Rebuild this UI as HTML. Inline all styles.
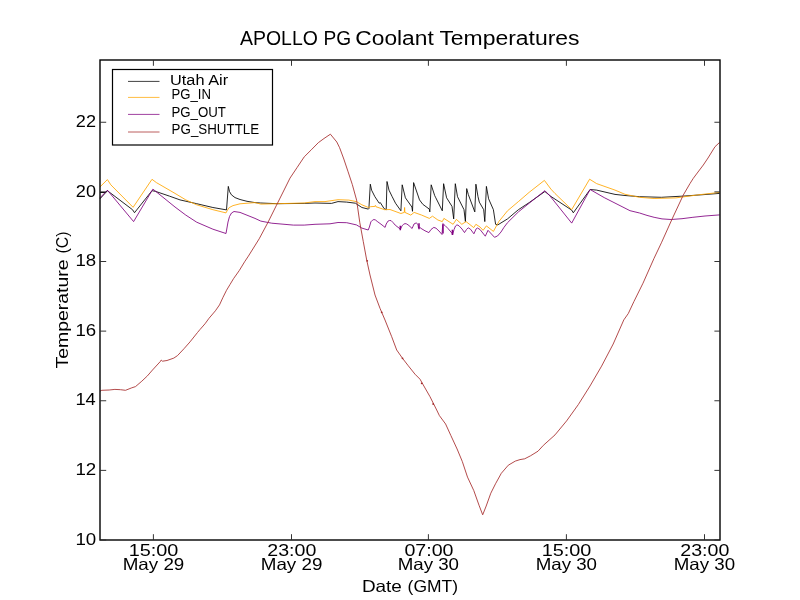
<!DOCTYPE html>
<html><head><meta charset="utf-8"><style>html,body{margin:0;padding:0;background:#fff;overflow:hidden}svg{display:block;will-change:transform}</style></head>
<body><svg width="800" height="600" viewBox="0 0 800 600">
<rect x="0" y="0" width="800" height="600" fill="#fff"/>
<polyline points="100.0,198.8 107.4,190.7 105.5,192.5 100.0,192.5 105.5,192.5 107.4,190.7 132.5,209.7 134.5,212.7 152.0,190.7 155.3,191.3 169.4,196.1 180.0,199.9 196.7,203.7 212.9,207.5 226.5,209.9 228.3,186.4 229.5,191.5 231.4,194.8 235.0,197.6 240.0,199.5 247.0,201.3 255.0,202.6 260.8,203.0 277.1,203.7 304.2,203.4 315.0,203.0 331.5,203.4 338.0,201.6 346.7,202.1 355.4,203.2 361.9,207.5 368.4,209.1 368.9,208.6 370.3,184.2 371.6,190.2 374.9,196.7 379.2,203.2 380.3,202.6 384.1,208.6 386.2,209.7 387.0,181.5 389.0,190.2 392.2,196.7 395.5,203.2 400.9,210.8 402.2,184.8 405.4,197.8 411.9,207.0 412.5,211.3 413.6,182.6 419.5,199.9 422.8,204.3 429.3,209.1 429.8,211.9 431.2,184.8 434.7,195.6 435.8,197.8 442.3,210.8 443.6,183.7 446.6,197.8 452.0,206.4 453.7,218.9 455.3,183.7 457.5,196.7 464.0,209.7 465.4,221.6 466.7,188.6 468.3,194.5 474.8,211.9 475.9,184.2 478.0,196.7 479.3,202.1 483.7,209.7 484.8,221.6 486.4,186.4 488.6,198.8 493.4,209.7 495.6,224.3 497.8,224.9 507.5,218.9 518.4,209.7 529.2,202.6 544.9,191.5 551.0,196.5 571.7,210.1 573.3,212.8 590.1,189.5 596.6,190.1 615.0,194.4 625.0,195.5 639.6,196.7 661.4,197.3 683.2,196.1 700.2,194.9 719.6,193.4" fill="none" stroke="#000000" stroke-width="0.85" stroke-linejoin="round"/>
<polyline points="100.0,186.9 107.4,179.6 110.8,184.8 133.1,207.3 152.0,179.3 156.4,182.6 175.0,193.4 185.8,199.9 196.7,204.8 212.9,209.7 226.0,212.9 227.5,210.0 229.2,207.6 233.0,205.6 240.0,203.8 255.0,202.6 260.8,204.1 277.1,203.7 304.2,203.0 315.0,201.6 325.0,201.6 338.0,199.7 348.8,200.1 356.4,201.6 361.9,204.8 368.4,207.5 370.5,206.7 374.9,206.4 375.4,205.4 375.9,206.7 384.6,209.7 390.0,209.5 400.9,213.5 404.3,212.4 404.6,207.5 404.9,212.4 410.8,215.1 414.1,212.4 421.7,215.1 429.3,218.4 432.5,216.2 437.9,220.0 442.3,221.6 443.9,218.4 453.1,224.3 456.4,219.4 461.8,224.3 466.1,221.6 473.7,227.6 475.9,224.3 480.0,227.0 483.1,230.3 486.4,225.9 493.4,231.4 498.8,221.6 507.5,210.8 518.4,201.6 529.2,192.3 544.4,180.4 550.9,189.1 555.0,193.5 571.7,209.6 589.6,179.2 596.6,183.6 615.0,190.1 625.0,194.3 639.6,197.3 654.1,198.5 675.9,197.9 697.8,194.9 719.6,192.4" fill="none" stroke="#FFA500" stroke-width="0.85" stroke-linejoin="round"/>
<polyline points="100.0,197.8 107.4,190.2 133.6,221.6 152.9,189.1 175.0,207.0 185.8,215.1 196.7,222.2 212.9,229.2 226.0,233.5 228.0,222.0 229.5,216.5 231.5,213.0 234.0,211.5 240.0,212.4 255.0,218.4 260.8,221.1 271.7,223.2 293.4,225.1 304.2,225.1 315.0,224.3 330.0,223.8 338.0,222.5 346.7,222.7 356.4,224.9 361.9,228.1 368.2,230.0 369.4,227.0 370.9,221.8 372.5,220.2 373.9,219.5 375.5,220.0 377.2,221.4 381.0,224.2 385.1,227.4 386.2,224.0 388.1,221.0 389.5,220.5 391.1,220.6 393.0,222.5 395.2,225.1 398.0,227.3 400.5,229.2 402.0,225.9 403.5,224.3 405.0,223.6 406.5,223.9 408.0,224.8 410.0,226.5 412.1,228.5 414.0,224.0 416.2,222.9 418.0,224.5 418.5,228.0 419.5,227.0 421.0,228.4 425.0,230.8 428.9,232.6 431.0,229.5 433.8,227.4 436.0,228.2 439.0,231.0 442.0,234.5 442.8,223.6 445.0,225.5 448.0,228.5 452.1,233.4 452.6,235.0 454.0,229.6 455.5,226.0 457.0,224.8 459.0,225.8 462.0,229.0 464.5,232.6 466.5,229.5 468.2,227.8 470.5,229.2 473.9,233.8 476.1,228.9 477.5,228.0 480.0,229.5 485.3,236.2 488.0,230.3 494.5,237.3 497.5,236.0 501.0,232.0 504.0,227.3 507.5,222.7 518.4,211.9 529.2,203.2 544.9,190.7 550.0,196.0 571.7,223.1 590.1,189.5 604.2,197.6 630.0,210.7 639.6,213.0 647.0,215.4 654.1,217.3 662.0,218.9 671.1,219.5 682.0,218.7 692.9,217.3 705.0,216.0 719.6,214.9" fill="none" stroke="#800080" stroke-width="0.85" stroke-linejoin="round"/>
<polyline points="100.0,391.2 101.8,390.3 109.2,390.0 114.9,389.4 120.5,389.7 125.5,390.3 131.8,387.8 135.5,386.6 141.8,381.2 147.4,375.9 152.5,370.0 160.6,361.2 161.2,360.0 162.5,361.2 167.0,360.5 173.8,358.1 177.5,355.6 184.0,348.7 190.0,341.9 197.5,332.5 200.0,329.5 205.0,323.8 209.0,318.3 215.4,310.8 219.5,304.9 223.0,297.3 226.5,290.3 230.0,284.5 233.5,278.7 239.3,270.5 244.6,261.8 248.4,256.1 259.2,238.8 267.9,222.5 276.5,205.2 284.1,190.0 290.0,178.1 297.1,167.5 304.2,156.9 311.3,149.8 318.3,142.7 324.0,138.5 330.4,134.2 336.8,142.0 339.6,147.7 343.8,159.0 348.1,171.8 352.3,184.5 356.6,200.1 358.0,210.0 359.8,222.6 363.3,241.7 366.7,260.0 370.0,275.0 375.0,295.0 380.0,308.3 385.0,320.0 391.7,336.7 396.7,350.0 402.5,358.3 408.3,365.8 415.0,374.2 420.0,379.2 423.3,385.0 430.0,396.7 436.7,410.0 439.4,415.6 445.6,424.0 450.8,435.4 457.1,449.0 462.3,461.5 467.5,477.1 473.8,490.6 479.0,505.2 482.7,514.8 486.2,506.0 490.8,493.2 495.5,483.8 501.3,473.3 508.3,465.2 515.3,461.1 520.0,459.6 524.7,458.8 530.5,455.8 538.0,451.2 543.3,445.4 555.0,434.9 566.6,420.9 578.3,404.6 590.0,386.0 601.6,366.1 613.2,344.0 623.8,319.9 628.3,313.5 633.9,301.6 643.0,283.2 654.0,258.4 661.4,242.8 672.1,219.0 683.3,195.0 690.0,183.5 693.3,178.3 698.0,172.0 703.3,165.0 708.0,158.0 715.0,146.7 719.5,142.5" fill="none" stroke="#A52A2A" stroke-width="0.85" stroke-linejoin="round"/>
<path d="M400.3,225.8V230.2M419,223.2V229.2M443,224.5V233.5M452.4,229.8V235" stroke="#800080" stroke-width="1.5" fill="none"/>
<g fill="#A52A2A"><circle cx="367.2" cy="260.8" r="0.9"/><circle cx="381.7" cy="312.3" r="0.9"/><circle cx="402.5" cy="358.3" r="0.9"/><circle cx="421.7" cy="383.3" r="0.9"/><circle cx="433.2" cy="404" r="0.9"/></g>
<rect x="100" y="60" width="620" height="480" fill="none" stroke="#000" stroke-width="1.4"/>
<path d="M100,540.00h6.2M720,540.00h-5.6M100,470.38h6.2M720,470.38h-5.6M100,400.75h6.2M720,400.75h-5.6M100,331.12h6.2M720,331.12h-5.6M100,261.50h6.2M720,261.50h-5.6M100,191.88h6.2M720,191.88h-5.6M100,122.25h6.2M720,122.25h-5.6M153.4,540v-5.8M153.4,60v5.8M291.5,540v-5.8M291.5,60v5.8M428.4,540v-5.8M428.4,60v5.8M566.4,540v-5.8M566.4,60v5.8M704.5,540v-5.8M704.5,60v5.8" stroke="#2a2a2a" stroke-width="0.95" fill="none"/>
<text x="75.40" y="544.70" font-family="Liberation Sans, sans-serif" font-size="16.5" textLength="20.83" lengthAdjust="spacingAndGlyphs">10</text>
<text x="75.40" y="475.07" font-family="Liberation Sans, sans-serif" font-size="16.5" textLength="20.84" lengthAdjust="spacingAndGlyphs">12</text>
<text x="75.42" y="405.45" font-family="Liberation Sans, sans-serif" font-size="16.5" textLength="20.38" lengthAdjust="spacingAndGlyphs">14</text>
<text x="75.40" y="335.82" font-family="Liberation Sans, sans-serif" font-size="16.5" textLength="20.73" lengthAdjust="spacingAndGlyphs">16</text>
<text x="75.40" y="266.20" font-family="Liberation Sans, sans-serif" font-size="16.5" textLength="20.73" lengthAdjust="spacingAndGlyphs">18</text>
<text x="75.84" y="196.57" font-family="Liberation Sans, sans-serif" font-size="16.5" textLength="20.16" lengthAdjust="spacingAndGlyphs">20</text>
<text x="75.84" y="126.95" font-family="Liberation Sans, sans-serif" font-size="16.5" textLength="20.16" lengthAdjust="spacingAndGlyphs">22</text>
<text x="128.66" y="555.80" font-family="Liberation Sans, sans-serif" font-size="16.5" textLength="49.74" lengthAdjust="spacingAndGlyphs">15:00</text>
<text x="122.66" y="569.80" font-family="Liberation Sans, sans-serif" font-size="16.5" textLength="61.67" lengthAdjust="spacingAndGlyphs">May 29</text>
<text x="267.27" y="555.80" font-family="Liberation Sans, sans-serif" font-size="16.5" textLength="49.02" lengthAdjust="spacingAndGlyphs">23:00</text>
<text x="260.76" y="569.80" font-family="Liberation Sans, sans-serif" font-size="16.5" textLength="61.67" lengthAdjust="spacingAndGlyphs">May 29</text>
<text x="404.41" y="555.80" font-family="Liberation Sans, sans-serif" font-size="16.5" textLength="49.07" lengthAdjust="spacingAndGlyphs">07:00</text>
<text x="397.67" y="569.80" font-family="Liberation Sans, sans-serif" font-size="16.5" textLength="61.35" lengthAdjust="spacingAndGlyphs">May 30</text>
<text x="541.66" y="555.80" font-family="Liberation Sans, sans-serif" font-size="16.5" textLength="49.74" lengthAdjust="spacingAndGlyphs">15:00</text>
<text x="535.67" y="569.80" font-family="Liberation Sans, sans-serif" font-size="16.5" textLength="61.35" lengthAdjust="spacingAndGlyphs">May 30</text>
<text x="680.27" y="555.80" font-family="Liberation Sans, sans-serif" font-size="16.5" textLength="49.02" lengthAdjust="spacingAndGlyphs">23:00</text>
<text x="673.77" y="569.80" font-family="Liberation Sans, sans-serif" font-size="16.5" textLength="61.35" lengthAdjust="spacingAndGlyphs">May 30</text>
<text x="240.00" y="44.75" font-family="Liberation Sans, sans-serif" font-size="20" textLength="77.88" lengthAdjust="spacingAndGlyphs">APOLLO</text>
<text x="323.48" y="44.75" font-family="Liberation Sans, sans-serif" font-size="20" textLength="27.65" lengthAdjust="spacingAndGlyphs">PG</text>
<text x="355.32" y="44.75" font-family="Liberation Sans, sans-serif" font-size="20" textLength="78.43" lengthAdjust="spacingAndGlyphs">Coolant</text>
<text x="439.40" y="44.75" font-family="Liberation Sans, sans-serif" font-size="20" textLength="140.2" lengthAdjust="spacingAndGlyphs">Temperatures</text>
<text x="361.90" y="591.70" font-family="Liberation Sans, sans-serif" font-size="16.5" textLength="40.0" lengthAdjust="spacingAndGlyphs">Date</text>
<text x="407.59" y="591.70" font-family="Liberation Sans, sans-serif" font-size="16.5" textLength="50.42" lengthAdjust="spacingAndGlyphs">(GMT)</text>
<text transform="translate(67.9,600) rotate(-90)" x="231.56" y="0" font-family="Liberation Sans, sans-serif" font-size="16.5" textLength="108.99" lengthAdjust="spacingAndGlyphs">Temperature</text>
<text transform="translate(67.9,600) rotate(-90)" x="346.51" y="0" font-family="Liberation Sans, sans-serif" font-size="16.5" textLength="21.98" lengthAdjust="spacingAndGlyphs">(C)</text>
<rect x="112.5" y="69.5" width="160" height="75.5" fill="#fff" stroke="#000" stroke-width="1.2"/>
<line x1="128" y1="81.4" x2="159.5" y2="81.4" stroke="#000000" stroke-width="0.75"/>
<text x="170.04" y="84.70" font-family="Liberation Sans, sans-serif" font-size="14" textLength="58.05" lengthAdjust="spacingAndGlyphs">Utah Air</text>
<line x1="128" y1="97.4" x2="159.5" y2="97.4" stroke="#FFA500" stroke-width="0.75"/>
<text x="171.51" y="98.60" font-family="Liberation Sans, sans-serif" font-size="14" textLength="39.47" lengthAdjust="spacingAndGlyphs">PG_IN</text>
<line x1="128" y1="114.4" x2="159.5" y2="114.4" stroke="#800080" stroke-width="0.75"/>
<text x="171.41" y="116.50" font-family="Liberation Sans, sans-serif" font-size="14" textLength="54.46" lengthAdjust="spacingAndGlyphs">PG_OUT</text>
<line x1="128" y1="132.0" x2="159.5" y2="132.0" stroke="#A52A2A" stroke-width="0.75"/>
<text x="171.62" y="133.60" font-family="Liberation Sans, sans-serif" font-size="14" textLength="87.56" lengthAdjust="spacingAndGlyphs">PG_SHUTTLE</text>
</svg></body></html>
